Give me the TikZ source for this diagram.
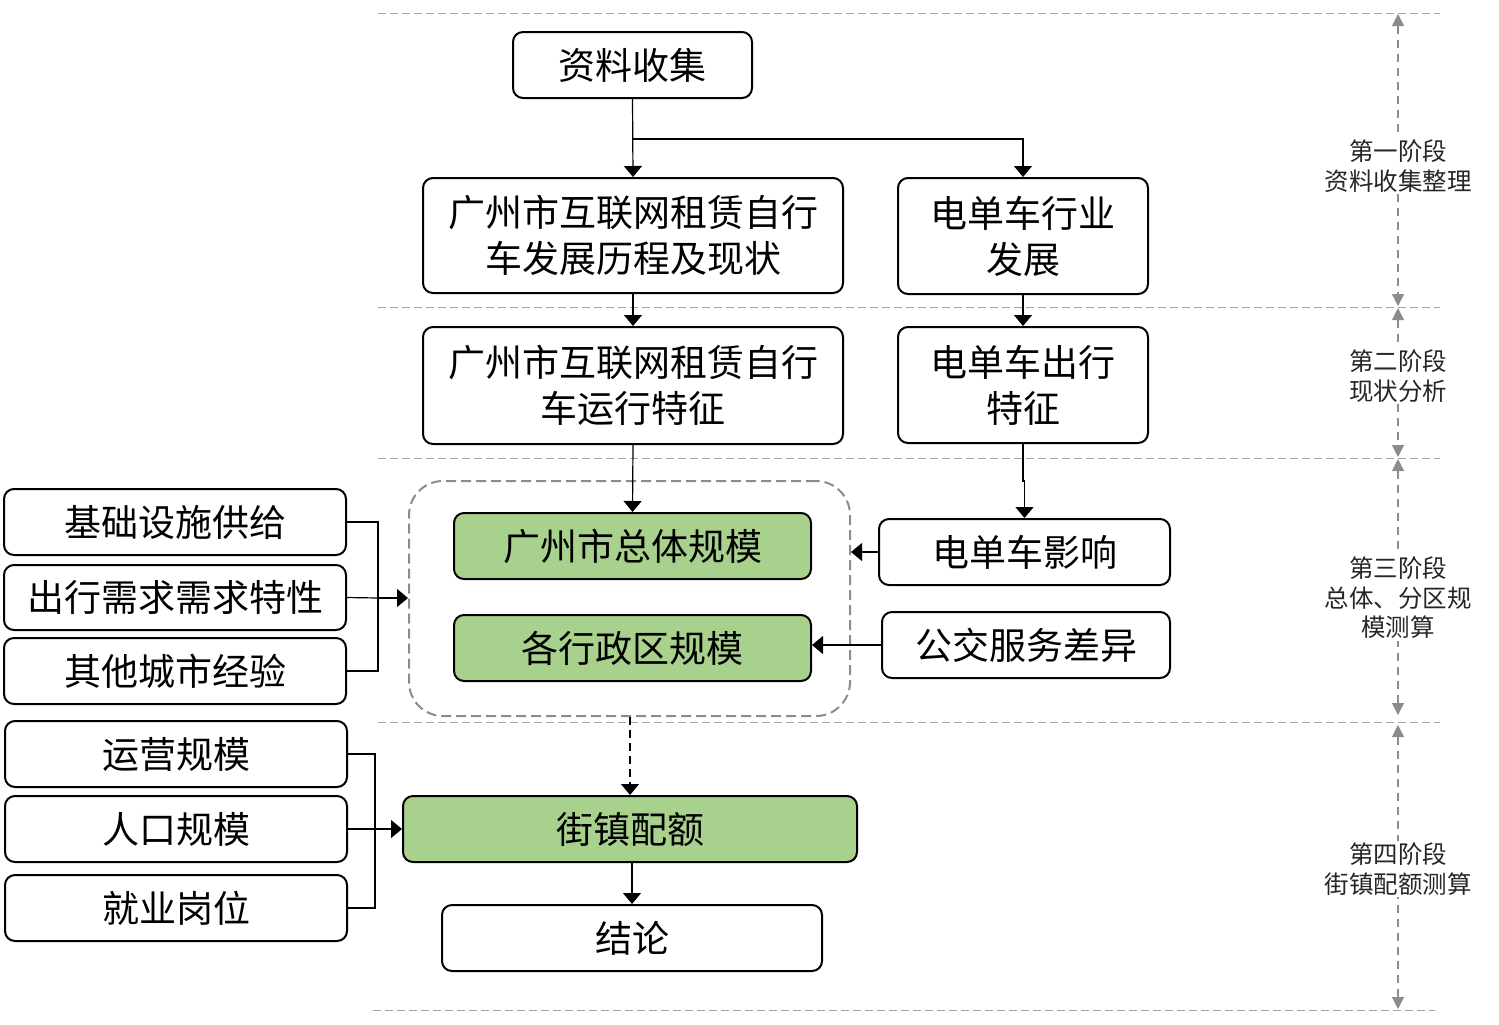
\documentclass[tikz,border=0pt]{standalone}
\usepackage{fontspec}
\setmainfont{Noto Sans CJK SC}
\usetikzlibrary{arrows.meta,calc}
\definecolor{gbox}{HTML}{A9D18E}
\definecolor{lgray}{HTML}{8C8C8C}
\begin{document}
\begin{tikzpicture}[x=0.5pt,y=-0.5pt,
  box/.style={draw=black,line width=1pt,rounded corners=5pt,fill=white,align=center,
    font=\fontsize{18.5pt}{23pt}\selectfont,inner sep=0pt},
  gbox/.style={box,fill=gbox},
  conn/.style={line width=0.6pt,-{Triangle[width=9pt,length=5.5pt]}},
  plain/.style={line width=0.6pt},
  sep/.style={draw=lgray!80,line width=0.5pt,dash pattern=on 4pt off 2pt},
  stg/.style={draw=lgray,line width=0.6pt,dash pattern=on 4pt off 3pt,
    {Triangle[width=6pt,length=6pt]}-{Triangle[width=6pt,length=6pt]}},
  stlab/.style={fill=white,align=center,font=\fontsize{12.25pt}{14.8pt}\selectfont,text=black!85,inner sep=1pt}
]
\useasboundingbox (0,0) rectangle (1499,1024);
% separators
\draw[sep] (378,13) -- (1440,13);
\draw[sep] (378,307) -- (1440,307);
\draw[sep] (378,458) -- (1440,458);
\draw[sep] (378,722) -- (1440,722);
\draw[sep] (373,1010) -- (1435,1010);
% stage arrows
\coordinate (s0) at (1398,14);
\coordinate (s1a) at (1398,306);
\coordinate (s1b) at (1398,308);
\coordinate (s2a) at (1398,457);
\coordinate (s2b) at (1398,459);
\coordinate (s3a) at (1398,715);
\coordinate (s3b) at (1398,725);
\coordinate (s4) at (1398,1009);
\draw[stg] (s0) -- (s1a);
\draw[stg] (s1b) -- (s2a);
\draw[stg] (s2b) -- (s3a);
\draw[stg] (s3b) -- (s4);
\node[stlab] (st1) at (1398,166) {第一阶段\\资料收集整理};
\node[stlab] (st2) at (1398,376) {第二阶段\\现状分析};
\node[stlab] (st3) at (1398,598) {第三阶段\\总体、分区规\\模测算};
\node[stlab] (st4) at (1398,869) {第四阶段\\街镇配额测算};
% container
\node[draw=lgray,line width=1pt,dash pattern=on 5pt off 2.5pt,rounded corners=17pt,
  minimum width=220.5pt,minimum height=117.5pt,inner sep=0pt] (cont) at (629.5,598.5) {};
% boxes
\node[box,minimum width=119.5pt,minimum height=33pt] (zl) at (632.5,65) {资料收集};
\node[box,minimum width=210pt,minimum height=57.5pt] (fz) at (633,235.5) {广州市互联网租赁自行\\车发展历程及现状};
\node[box,minimum width=125pt,minimum height=58pt] (dh) at (1023,236) {电单车行业\\发展};
\node[box,minimum width=210pt,minimum height=58.5pt] (yx) at (633,385.5) {广州市互联网租赁自行\\车运行特征};
\node[box,minimum width=125pt,minimum height=58pt] (dc) at (1023,385) {电单车出行\\特征};
\node[gbox,minimum width=178.5pt,minimum height=33pt] (zt) at (632.5,546) {广州市总体规模};
\node[gbox,minimum width=178.5pt,minimum height=33pt] (xz) at (632.5,648) {各行政区规模};
\node[box,minimum width=145.5pt,minimum height=33pt] (dy) at (1024.5,552) {电单车影响};
\node[box,minimum width=144pt,minimum height=33pt] (gj) at (1026,645) {公交服务差异};
\node[box,minimum width=171pt,minimum height=33pt] (l1) at (175,522) {基础设施供给};
\node[box,minimum width=171pt,minimum height=32.5pt] (l2) at (175,597.5) {出行需求需求特性};
\node[box,minimum width=171pt,minimum height=33pt] (l3) at (175,671) {其他城市经验};
\node[box,minimum width=171pt,minimum height=33pt] (l4) at (176,754) {运营规模};
\node[box,minimum width=171pt,minimum height=33pt] (l5) at (176,829) {人口规模};
\node[box,minimum width=171pt,minimum height=33pt] (l6) at (176,908) {就业岗位};
\node[gbox,minimum width=227pt,minimum height=33pt] (jz) at (630,829) {街镇配额};
\node[box,minimum width=190pt,minimum height=33pt] (jl) at (632,938) {结论};
% connectors
\coordinate (br1) at (633,139);
\draw[conn] (zl.south) -- (fz.north);
\draw[conn] (br1) -| (dh.north);
\draw[conn] (fz.south) -- (yx.north);
\draw[conn] (dh.south) -- (dc.north);
\draw[conn] (yx.south) -- (zt.north);
\draw[conn] (dc.south) |- ($(dc.south)!0.5!(dy.north)$) -| (dy.north);
\draw[conn] (dy.west) -- (dy.west -| cont.east);
\draw[conn] (gj.west) -- (gj.west -| xz.east);
\coordinate (b1) at (378,598);
\draw[plain] (l1.east) -| (b1);
\draw[plain] (l3.east) -| (b1);
\draw[plain] (l2.east) -- (b1);
\draw[conn] (b1) -- (b1 -| cont.west);
\coordinate (b2) at (375,829);
\draw[plain] (l4.east) -| (b2);
\draw[plain] (l6.east) -| (b2);
\draw[plain] (l5.east) -- (b2);
\draw[conn] (b2) -- (jz.west);
\draw[conn,dash pattern=on 4pt off 2.5pt] (cont.south -| jz.north) -- (jz.north);
\draw[conn] (jz.south -| jl.north) -- (jl.north);
\end{tikzpicture}
\end{document}
